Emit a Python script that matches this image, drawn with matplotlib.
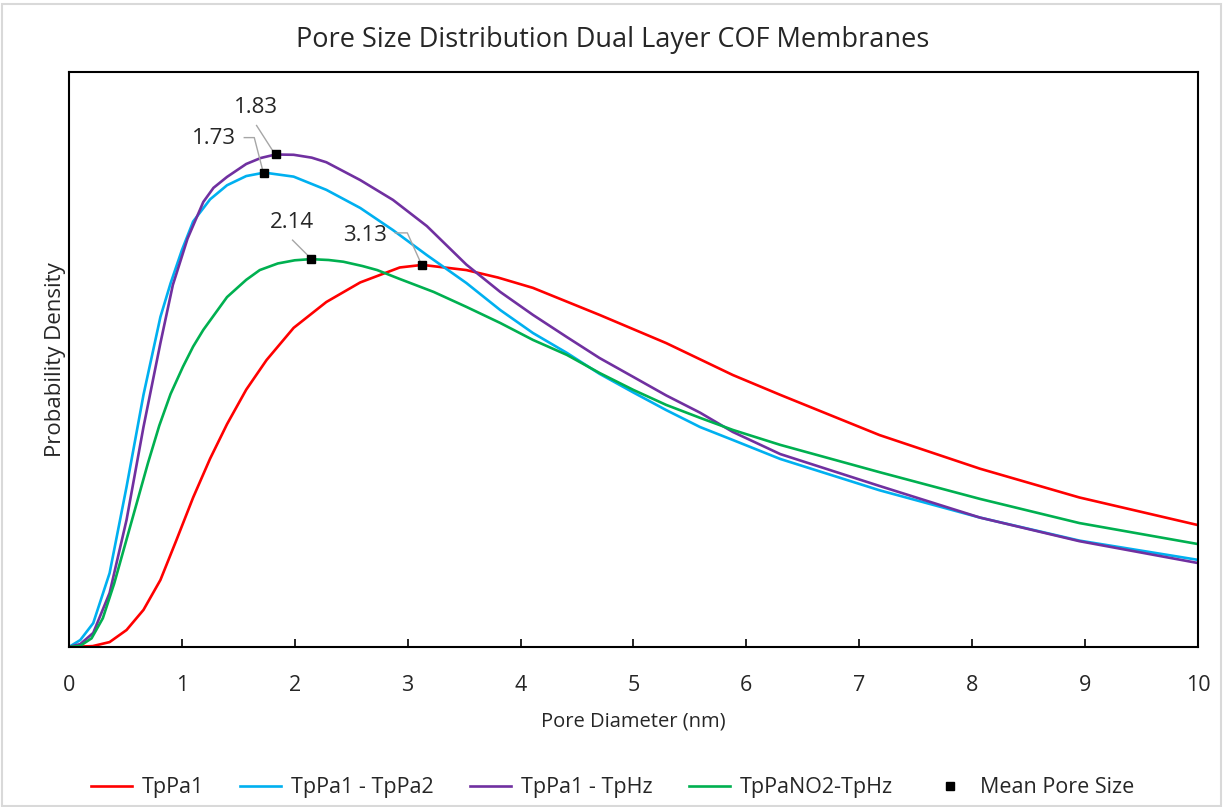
import matplotlib
matplotlib.use("Agg")
import matplotlib.pyplot as plt
from matplotlib.patches import Rectangle
from matplotlib.transforms import ScaledTranslation

plt.rcParams["font.family"] = ["Open Sans", "DejaVu Sans"]

# Pore diameter (nm) and probability density for each membrane
x_tppa1 = [0, 0.21, 0.36, 0.51, 0.66, 0.81, 0.95, 1.10, 1.25, 1.40, 1.57, 1.75, 1.99,
           2.28, 2.58, 2.93, 3.13, 3.52, 3.80, 4.11, 4.70, 5.29, 5.88, 6.30, 7.18, 8.07,
           8.95, 10.0]
y_tppa1 = [0, 0.0003, 0.0017, 0.0059, 0.0129, 0.0233, 0.0370, 0.0520, 0.0655, 0.0775,
           0.0895, 0.0998, 0.1110, 0.1200, 0.1268, 0.1320, 0.1329, 0.1311, 0.1285, 0.1249,
           0.1155, 0.1057, 0.0946, 0.0877, 0.0737, 0.0620, 0.0520, 0.0424]

x_tppa1_tppa2 = [0, 0.10, 0.215, 0.36, 0.51, 0.66, 0.81, 0.90, 1.00, 1.10, 1.25, 1.40, 1.57,
                 1.73, 1.99, 2.28, 2.58, 2.87, 3.17, 3.52, 3.82, 4.11, 4.41, 4.70, 5.00,
                 5.29, 5.59, 5.88, 6.30, 7.18, 8.07, 8.95, 10.0]
y_tppa1_tppa2 = [0, 0.0024, 0.0083, 0.0257, 0.0557, 0.0877, 0.1148, 0.1265, 0.1380, 0.1480,
                 0.1557, 0.1606, 0.1638, 0.1650, 0.1636, 0.1590, 0.1527, 0.1450, 0.1363,
                 0.1266, 0.1172, 0.1092, 0.1023, 0.0950, 0.0885, 0.0824, 0.0765, 0.0720,
                 0.0654, 0.0545, 0.0450, 0.0370, 0.0303]

x_tppa1_tphz = [0, 0.10, 0.215, 0.36, 0.51, 0.66, 0.81, 0.92, 1.05, 1.19, 1.28, 1.40, 1.57,
                1.70, 1.83, 1.99, 2.15, 2.28, 2.58, 2.87, 3.17, 3.52, 3.82, 4.11, 4.41,
                4.70, 5.00, 5.29, 5.59, 5.88, 6.30, 7.18, 8.07, 8.95, 10.0]
y_tppa1_tphz = [0, 0.0010, 0.0049, 0.0188, 0.0442, 0.0765, 0.1057, 0.1259, 0.1420, 0.1548,
                0.1597, 0.1635, 0.1680, 0.1701, 0.1713, 0.1712, 0.1702, 0.1686, 0.1624,
                0.1555, 0.1464, 0.1330, 0.1235, 0.1155, 0.1078, 0.1005, 0.0939, 0.0875,
                0.0815, 0.0748, 0.0671, 0.0560, 0.0450, 0.0368, 0.0292]

x_tppano2_tphz = [0, 0.10, 0.20, 0.30, 0.40, 0.50, 0.60, 0.70, 0.80, 0.90, 1.01, 1.10, 1.19,
                  1.40, 1.57, 1.69, 1.85, 2.00, 2.14, 2.30, 2.43, 2.60, 2.73, 2.93, 3.23,
                  3.52, 3.82, 4.11, 4.41, 4.70, 5.00, 5.29, 5.59, 5.88, 6.30, 7.18, 8.07,
                  8.95, 10.0]
y_tppano2_tphz = [0, 0.0004, 0.0030, 0.0100, 0.0220, 0.0360, 0.0500, 0.0640, 0.0770, 0.0880,
                  0.0975, 0.1045, 0.1103, 0.1217, 0.1277, 0.1311, 0.1334, 0.1345, 0.1349,
                  0.1346, 0.1340, 0.1325, 0.1311, 0.1280, 0.1235, 0.1183, 0.1127, 0.1068,
                  0.1016, 0.0953, 0.0894, 0.0842, 0.0797, 0.0755, 0.0703, 0.0608, 0.0515,
                  0.0431, 0.0358]

# Mean pore size of each membrane (nm) and the density there
mean_size = [3.13, 1.73, 1.83, 2.14]
mean_density = [0.1329, 0.1650, 0.1713, 0.1349]
mean_labels = ["3.13", "1.73", "1.83", "2.14"]

series_names = ["TpPa1", "TpPa1 - TpPa2", "TpPa1 - TpHz", "TpPaNO2-TpHz"]
series_colors = ["#ff0000", "#00b0f0", "#7030a0", "#00b050"]
x_ticks = list(range(0, 11))

fig = plt.figure(figsize=(12.25, 8.07), dpi=100)
ax = fig.add_axes([0.0563, 0.1983, 0.9216, 0.7125])

series = [(x_tppa1, y_tppa1), (x_tppa1_tppa2, y_tppa1_tppa2),
          (x_tppa1_tphz, y_tppa1_tphz), (x_tppano2_tphz, y_tppano2_tphz)]
for (xs, ys), name, color in zip(series, series_names, series_colors):
    ax.plot(xs, ys, color=color, lw=1.9, label=name, solid_joinstyle="round", zorder=2)

ax.plot(mean_size, mean_density, ls="none", marker="s", ms=5.5, color="black",
        label="Mean Pore Size", zorder=4)

# Data labels with leader lines (offsets in pixels from the marker)
label_offsets = [(-57, 29), (-50, 34), (-20, 47), (-19, 37)]
leaders = [
    [(-27, 32), (-15, 32), (-2, 3)],
    [(-20, 35), (-10, 35), (-2, 4)],
    [(-19, 29), (-3, 4)],
    [(-18, 19), (-1, 2)],
]
dpi = fig.dpi
for xm, ym, txt, (dx, dy), pts in zip(mean_size, mean_density, mean_labels,
                                       label_offsets, leaders):
    ax.annotate(txt, (xm, ym), xytext=(dx, dy), textcoords="offset pixels",
                ha="center", va="center", fontsize=16, color="#262626", zorder=5)
    trans = fig.dpi_scale_trans + ScaledTranslation(xm, ym, ax.transData)
    ax.plot([p[0] / dpi for p in pts], [p[1] / dpi for p in pts], color="#a6a6a6",
            lw=1.0, transform=trans, zorder=3, clip_on=False)

ax.set_xlim(0, 10)
ax.set_ylim(0, 0.2)
ax.set_xticks(x_ticks)
ax.set_xticklabels([str(t) for t in x_ticks])
ax.set_yticks([])
ax.tick_params(axis="x", direction="in", length=6, width=1.2, pad=20,
               labelsize=15.5, colors="black", labelcolor="#262626")
for sp in ax.spines.values():
    sp.set_linewidth(1.5)
    sp.set_color("black")

ax.set_xlabel("Pore Diameter (nm)", fontsize=14.5, color="#262626", labelpad=11)
ax.set_ylabel("Probability Density", fontsize=16, color="#262626", labelpad=2)
fig.text(0.5, 0.950, "Pore Size Distribution Dual Layer COF Membranes",
         ha="center", va="center", fontsize=19.5, color="#262626")

handles, labels = ax.get_legend_handles_labels()
fig.legend(handles, labels, loc="center", bbox_to_anchor=(0.5, 0.024), ncol=5,
           frameon=False, fontsize=15.5, handlelength=1.9, handletextpad=0.45,
           columnspacing=1.7, labelcolor="#262626")

fig.patches.append(Rectangle((0.002, 0.001), 0.995, 0.994, transform=fig.transFigure,
                             fill=False, edgecolor="#d9d9d9", lw=1.5))

fig.savefig("out.png", dpi=100, facecolor="white")
